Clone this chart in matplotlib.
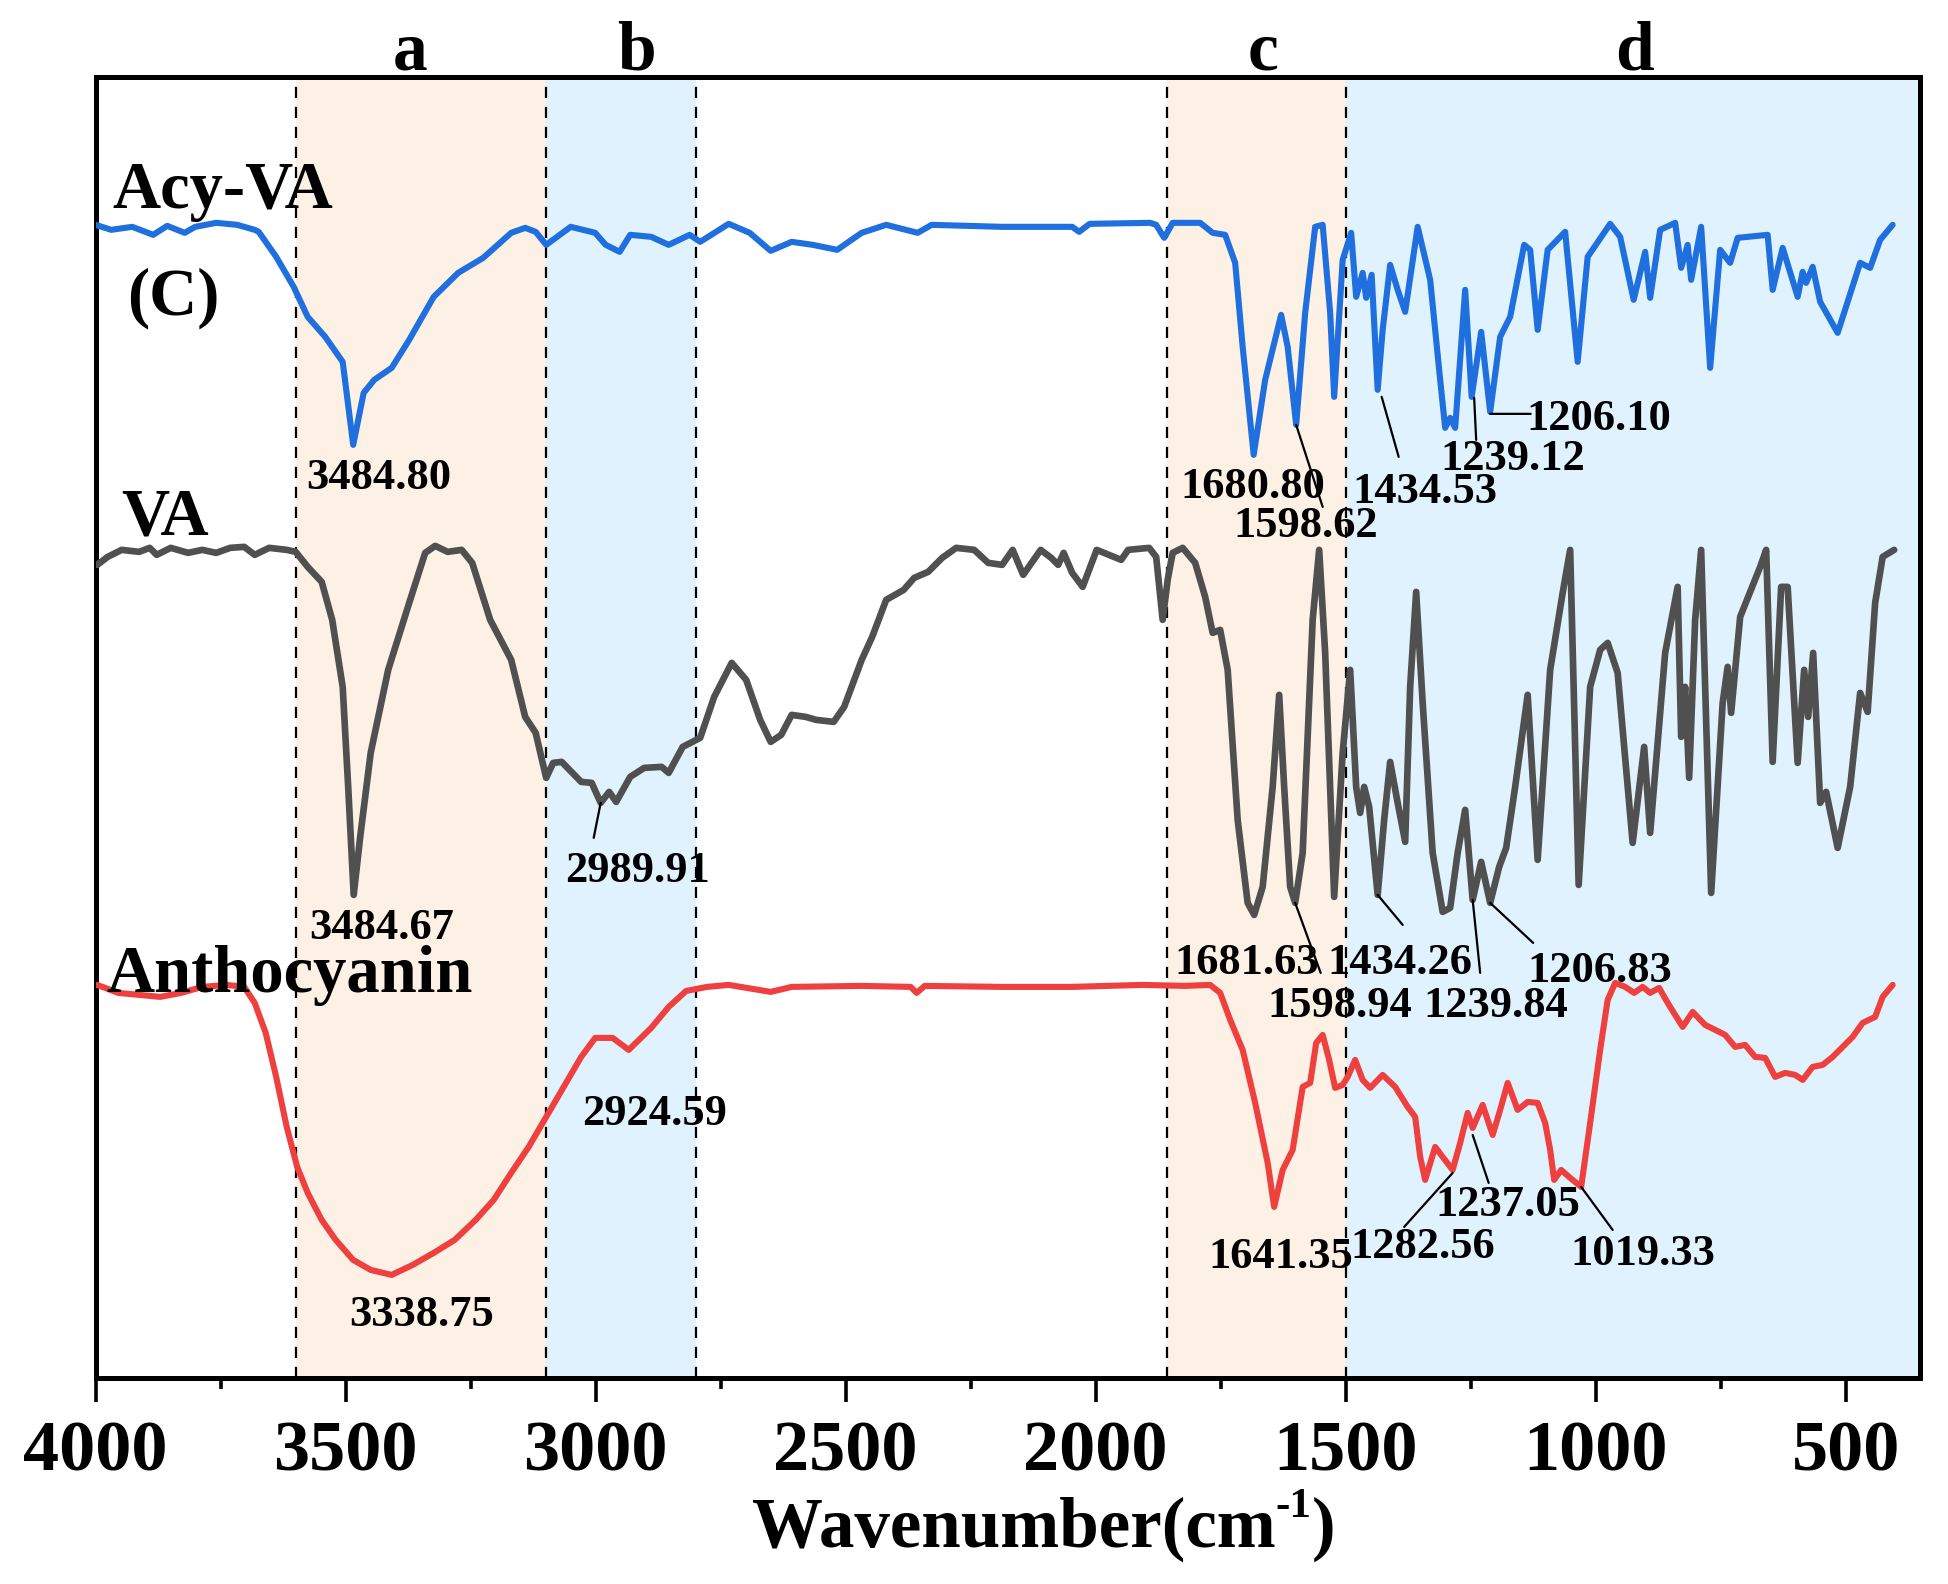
import numpy as np
import matplotlib
matplotlib.use("Agg")
import matplotlib.pyplot as plt

plt.rcParams['font.family'] = 'Liberation Serif'
plt.rcParams['font.weight'] = 'bold'

# Acy-VA (blue), wavenumber / intensity (a.u.)
acy_wn = [4000, 3969, 3927, 3885, 3857, 3822, 3801, 3759, 3717, 3682, 3674, 3639, 3604, 3576, 3541,
          3506, 3485, 3464, 3443, 3408, 3373, 3324, 3275, 3225, 3169, 3141, 3120, 3099, 3050, 3001,
          2980, 2952, 2931, 2889, 2854, 2812, 2791, 2734, 2692, 2650, 2608, 2566, 2517, 2468, 2419,
          2356, 2328, 2187, 2047, 2033, 2012, 1891, 1879, 1863, 1846, 1791, 1766, 1741, 1721, 1706,
          1684, 1661, 1629, 1616, 1599, 1581, 1561, 1546, 1531, 1523, 1506, 1489, 1479, 1466, 1459,
          1448, 1436, 1426, 1411, 1396, 1381, 1356, 1331, 1311, 1301, 1291, 1281, 1261, 1248, 1229,
          1211, 1191, 1171, 1143, 1131, 1116, 1096, 1061, 1036, 1016, 971, 951, 924, 901, 891,
          871, 841, 829, 816, 809, 789, 771, 751, 731, 716, 656, 646, 626, 596, 586,
          579, 566, 551, 516, 471, 451, 431, 406]
acy_t = [1153, 1148, 1151, 1143, 1152, 1145, 1151, 1155, 1153, 1148, 1146, 1121, 1091, 1061, 1041,
         1016, 933, 985, 998, 1010, 1038, 1081, 1105, 1120, 1145, 1150, 1146, 1133, 1151, 1145,
         1133, 1126, 1143, 1141, 1133, 1143, 1136, 1154, 1145, 1127, 1136, 1133, 1128, 1145, 1153,
         1145, 1153, 1151, 1151, 1146, 1154, 1155, 1153, 1140, 1155, 1155, 1145, 1143, 1115, 1031,
         923, 998, 1063, 1031, 953, 1065, 1151, 1153, 1065, 981, 1118, 1145, 1081, 1105, 1080,
         1103, 988, 1048, 1113, 1088, 1066, 1151, 1098, 998, 950, 960, 950, 1088, 981, 1046,
         966, 1041, 1061, 1133, 1128, 1048, 1128, 1146, 1016, 1121, 1154, 1141, 1078, 1126, 1080,
         1148, 1155, 1110, 1133, 1098, 1151, 1010, 1128, 1115, 1140, 1143, 1088, 1130, 1081, 1106,
         1095, 1111, 1076, 1045, 1115, 1110, 1138, 1153]

# VA (grey)
va_wn = [3997, 3976, 3948, 3913, 3892, 3878, 3850, 3815, 3787, 3759, 3731, 3703, 3682, 3653, 3618,
         3600, 3576, 3548, 3527, 3506, 3495, 3484, 3471, 3450, 3415, 3373, 3341, 3321, 3296, 3268,
         3247, 3211, 3169, 3141, 3120, 3099, 3085, 3068, 3029, 3008, 2990, 2973, 2959, 2931, 2903,
         2868, 2854, 2826, 2791, 2763, 2728, 2699, 2671, 2650, 2629, 2608, 2580, 2559, 2524, 2503,
         2468, 2447, 2419, 2384, 2363, 2335, 2307, 2279, 2243, 2215, 2187, 2166, 2145, 2110, 2089,
         2075, 2064, 2047, 2026, 1998, 1949, 1935, 1893, 1879, 1866, 1856, 1846, 1826, 1801, 1781,
         1766, 1751, 1736, 1716, 1696, 1683, 1666, 1646, 1633, 1623, 1611, 1601, 1586, 1566, 1553,
         1541, 1523, 1506, 1491, 1479, 1471, 1463, 1453, 1436, 1423, 1411, 1396, 1381, 1371, 1359,
         1346, 1326, 1306, 1291, 1276, 1261, 1246, 1229, 1211, 1193, 1179, 1161, 1136, 1116, 1091,
         1066, 1051, 1034, 1011, 991, 976, 956, 926, 903, 891, 861, 836, 829, 821, 813,
         801, 789, 769, 746, 736, 729, 711, 671, 659, 646, 629, 616, 596, 583, 575,
         565, 551, 539, 516, 491, 471, 456, 441, 426, 403]
va_t = [813, 821, 828, 826, 830, 823, 830, 825, 828, 825, 830, 831, 823, 830, 828,
        826, 811, 796, 758, 691, 591, 483, 541, 625, 708, 775, 825, 832, 826, 828,
        815, 758, 718, 661, 645, 600, 615, 616, 596, 595, 575, 586, 576, 601, 610,
        611, 605, 631, 640, 681, 715, 698, 658, 636, 643, 663, 661, 658, 656, 671,
        718, 741, 778, 788, 800, 806, 820, 830, 828, 815, 813, 828, 803, 828, 820,
        813, 825, 805, 791, 828, 818, 828, 830, 821, 758, 798, 825, 830, 815, 781,
        745, 748, 708, 558, 475, 463, 491, 591, 683, 591, 491, 475, 525, 758, 828,
        725, 481, 625, 708, 591, 565, 591, 571, 483, 558, 616, 575, 536, 691, 786,
        675, 525, 466, 470, 525, 568, 478, 516, 475, 511, 530, 591, 683, 518, 708,
        785, 828, 493, 691, 728, 735, 705, 535, 631, 545, 725, 791, 641, 691, 600,
        758, 828, 485, 675, 711, 665, 761, 811, 828, 616, 791, 791, 615, 708, 661,
        725, 575, 586, 530, 591, 685, 666, 775, 821, 828]

# Anthocyanin (red)
an_wn = [3997, 3955, 3913, 3871, 3829, 3787, 3738, 3703, 3682, 3660, 3639, 3618, 3597, 3576, 3548,
         3520, 3485, 3450, 3408, 3366, 3324, 3282, 3240, 3204, 3169, 3134, 3099, 3064, 3029, 3001,
         2966, 2934, 2889, 2854, 2819, 2777, 2734, 2650, 2608, 2468, 2370, 2358, 2342, 2187, 2047,
         1907, 1822, 1771, 1751, 1731, 1706, 1681, 1656, 1643, 1626, 1606, 1586, 1571, 1559, 1546,
         1533, 1521, 1506, 1496, 1481, 1466, 1451, 1426, 1401, 1376, 1361, 1351, 1341, 1321, 1306,
         1286, 1271, 1256, 1246, 1226, 1206, 1191, 1176, 1156, 1136, 1116, 1101, 1091, 1083, 1069,
         1051, 1029, 1011, 991, 976, 961, 941, 923, 906, 891, 873, 856, 841, 826, 806,
         781, 761, 741, 721, 701, 681, 661, 641, 621, 601, 586, 566, 546, 526, 506,
         486, 466, 441, 426, 406]
an_t = [393, 385, 383, 381, 385, 391, 393, 391, 375, 345, 301, 251, 211, 185, 158,
        138, 118, 108, 103, 113, 125, 138, 158, 178, 205, 231, 261, 291, 321, 340,
        340, 328, 350, 371, 387, 391, 393, 386, 391, 392, 391, 385, 392, 391, 391,
        393, 392, 393, 385, 358, 328, 275, 215, 171, 208, 228, 291, 295, 335, 343,
        318, 290, 293, 301, 318, 298, 290, 303, 291, 271, 261, 221, 198, 231, 221,
        208, 235, 265, 250, 273, 243, 268, 295, 268, 276, 275, 255, 228, 198, 208,
        200, 191, 255, 328, 378, 395, 391, 385, 391, 385, 390, 375, 363, 351, 366,
        353, 348, 343, 331, 333, 321, 320, 301, 305, 303, 298, 311, 313, 321, 331,
        341, 355, 361, 381, 393]

# shaded regions (start, end, colour) and region letters
regions = [(3600, 3100, '#fdf0e4'), (3100, 2800, '#e0f2fd'),
           (1857, 1500, '#fdf0e4'), (1500, 351, '#e0f2fd')]
dashed_at = [3600, 3100, 2800, 1857, 1500]
region_labels = [('a', 3371), ('b', 2919), ('c', 1665), ('d', 923)]

# sample names: text, wn, intensity
names = [('Acy-VA', 3966, 1170), ('(C)', 3937, 1063), ('VA', 3949, 843), ('Anthocyanin', 3979, 386)]

# peak labels: text, label centre (wn, t), leader (from wn, t, to wn, t) or None
peaks = [
    ('3484.80', 3433, 900, None),
    ('1680.80', 1686, 891, None),
    ('1598.62', 1579, 852, (1599, 953, 1546, 871)),
    ('1434.53', 1341, 886, (1428, 981, 1394, 921)),
    ('1239.12', 1166, 919, (1243, 980, 1239, 938)),
    ('1206.10', 994, 959, (1211, 964, 1130, 964)),
    ('3484.67', 3429, 450, None),
    ('2989.91', 2916, 507, (2990, 575, 3004, 540)),
    ('1681.63', 1699, 415, None),
    ('1598.94', 1511, 372, (1601, 475, 1550, 405)),
    ('1434.26', 1391, 415, (1436, 483, 1386, 453)),
    ('1239.84', 1199, 372, (1246, 478, 1231, 405)),
    ('1206.83', 991, 407, (1211, 475, 1125, 435)),
    ('3338.75', 3349, 63, None),
    ('2924.59', 2882, 264, None),
    ('1641.35', 1629, 121, None),
    ('1282.56', 1345, 131, (1286, 205, 1383, 151)),
    ('1237.05', 1176, 173, (1246, 243, 1214, 195)),
    ('1019.33', 906, 124, (1029, 191, 966, 148)),
]

fig = plt.figure(figsize=(19.49, 15.84), dpi=100)
ax = fig.add_axes([0.0491, 0.1301, 0.9361, 0.8214])

for x0, x1, c in regions:
    ax.axvspan(x1, x0, color=c, lw=0, zorder=0)
for x in dashed_at:
    ax.axvline(x, color='k', lw=1.6, ls=(0, (5, 4)), zorder=1)

line_kw = dict(zorder=3, solid_joinstyle='round', solid_capstyle='round')
ax.plot(acy_wn, acy_t, color='#1f6fde', lw=4.4, **line_kw)
ax.plot(va_wn, va_t, color='#505050', lw=4.8, **line_kw)
ax.plot(an_wn, an_t, color='#ef4040', lw=4.4, **line_kw)

for txt, x, y in names:
    ax.text(x, y, txt, fontsize=48, fontweight='bold', ha='left', va='baseline', zorder=4)

for txt, x in region_labels:
    ax.text(x, 1308, txt, fontsize=50, fontweight='bold', ha='center', va='baseline', clip_on=False)

for txt, x, y, lead in peaks:
    ax.text(x, y, txt, fontsize=32, fontweight='bold', ha='center', va='center', zorder=4)
    if lead is not None:
        ax.annotate('', xy=(lead[0], lead[1]), xytext=(lead[2], lead[3]),
                    arrowprops=dict(arrowstyle='-', color='k', lw=1.6, shrinkA=0, shrinkB=0),
                    zorder=4)

ax.set_xlim(4000, 351)
ax.set_ylim(0, 1301)
ax.set_yticks([])
ax.set_xticks([4000, 3500, 3000, 2500, 2000, 1500, 1000, 500])
ax.set_xticks(np.arange(3750, 351, -500), minor=True)
ax.tick_params(axis='x', which='major', direction='out', length=17, width=2.6,
               labelsize=52, pad=14)
ax.tick_params(axis='x', which='minor', direction='out', length=8, width=2.6)
for lab in ax.get_xticklabels():
    lab.set_fontweight('bold')
for sp in ax.spines.values():
    sp.set_linewidth(3.6)

# x label built from pieces so the superscript keeps a plain hyphen
W, H = fig.get_size_inches() * fig.dpi
x0, base = 752 / W, 1 - 1547 / H
t1 = fig.text(x0, base, 'Wavenumber(cm', fontsize=51, fontweight='bold', va='baseline')
fig.canvas.draw()
r = fig.canvas.get_renderer()
e1 = t1.get_window_extent(r)
t2 = fig.text(e1.x1 / W, base + 30 / H, '-1', fontsize=31, fontweight='bold', va='baseline')
e2 = t2.get_window_extent(r)
fig.text(e2.x1 / W, base, ')', fontsize=51, fontweight='bold', va='baseline')

fig.savefig('out.png', dpi=100)
